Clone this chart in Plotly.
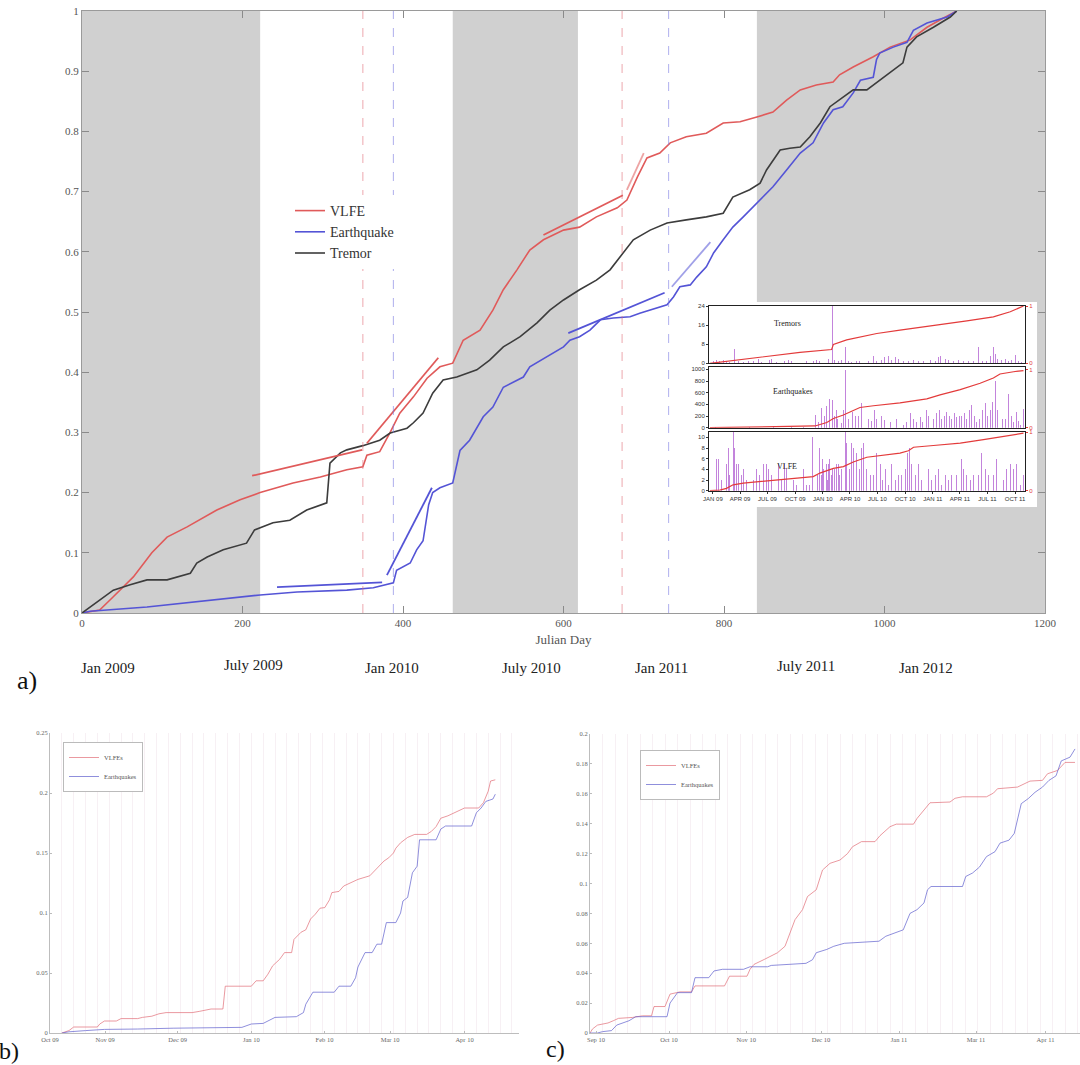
import plotly.graph_objects as go

W, H = 1080, 1065
SERIF = "Liberation Serif"

# ---------------- a) main panel: normalized cumulative counts vs Julian day
vlfe_day = [0, 22, 39, 64, 87, 106, 131, 168, 197, 222, 263, 297, 330, 350, 355, 371, 384, 396, 413, 430,
            446, 462, 475, 496, 512, 525, 542, 558, 575, 600, 620, 641, 667, 679, 692, 704, 720, 733, 753, 778,
            799, 820, 841, 861, 878, 895, 915, 936, 944, 961, 986, 1007, 1032, 1053, 1073, 1090]
vlfe_cum = [0, 0.005, 0.027, 0.06, 0.10, 0.126, 0.143, 0.171, 0.188, 0.20, 0.216, 0.226, 0.238, 0.243, 0.262, 0.268, 0.30, 0.332, 0.359, 0.39,
            0.409, 0.415, 0.453, 0.47, 0.503, 0.537, 0.57, 0.603, 0.62, 0.636, 0.641, 0.658, 0.673, 0.686, 0.724, 0.756, 0.764, 0.781, 0.791, 0.797,
            0.814, 0.816, 0.824, 0.832, 0.852, 0.869, 0.877, 0.882, 0.894, 0.907, 0.924, 0.94, 0.952, 0.973, 0.988, 1.0]

eq_day = [0, 10, 81, 163, 222, 268, 330, 363, 380, 388, 392, 409, 417, 425, 432, 437, 446, 462, 471, 483,
          500, 512, 525, 550, 558, 579, 600, 608, 620, 633, 646, 662, 683, 695, 716, 729, 737, 745, 758, 766,
          778, 787, 799, 811, 824, 836, 849, 861, 878, 895, 911, 924, 936, 948, 961, 970, 986, 990, 994, 1011,
          1028, 1036, 1053, 1078, 1090]
eq_cum = [0, 0.003, 0.01, 0.022, 0.03, 0.035, 0.038, 0.042, 0.047, 0.05, 0.071, 0.083, 0.105, 0.12, 0.18, 0.2, 0.208, 0.216, 0.27, 0.287,
          0.326, 0.342, 0.375, 0.392, 0.409, 0.425, 0.442, 0.453, 0.459, 0.47, 0.487, 0.49, 0.492, 0.498, 0.507, 0.512, 0.525, 0.542, 0.545, 0.558,
          0.575, 0.598, 0.62, 0.641, 0.658, 0.674, 0.691, 0.708, 0.736, 0.764, 0.781, 0.814, 0.836, 0.841, 0.864, 0.885, 0.89, 0.919, 0.93, 0.94,
          0.948, 0.968, 0.98, 0.99, 1.0]

tr_day = [0, 22, 39, 60, 81, 106, 135, 143, 156, 176, 205, 215, 238, 259, 280, 305, 309, 322, 330, 350,
          359, 371, 384, 405, 413, 425, 437, 450, 467, 492, 508, 525, 546, 567, 583, 600, 620, 641, 658, 670,
          687, 708, 729, 753, 778, 799, 811, 832, 845, 853, 870, 882, 895, 907, 920, 932, 944, 961, 978, 994,
          1011, 1023, 1028, 1040, 1061, 1082, 1090]
tr_cum = [0, 0.022, 0.038, 0.047, 0.055, 0.055, 0.066, 0.083, 0.093, 0.105, 0.116, 0.138, 0.15, 0.154, 0.171, 0.183, 0.249, 0.266, 0.271, 0.278,
          0.282, 0.287, 0.299, 0.307, 0.316, 0.332, 0.365, 0.387, 0.392, 0.404, 0.42, 0.442, 0.459, 0.482, 0.503, 0.52, 0.537, 0.553, 0.57, 0.591,
          0.62, 0.636, 0.648, 0.653, 0.658, 0.664, 0.691, 0.703, 0.714, 0.736, 0.769, 0.772, 0.774, 0.791, 0.814, 0.841, 0.852, 0.869, 0.869, 0.885,
          0.902, 0.914, 0.94, 0.957, 0.973, 0.99, 1.0]

# linear trend segments (start/end day, start/end value); last one of each drawn lighter
vlfe_fit_days = [[212, 349], [355, 444], [575, 674], [679, 700]]
vlfe_fit_vals = [[0.228, 0.271], [0.282, 0.424], [0.628, 0.694], [0.703, 0.764]]
eq_fit_days = [[243, 374], [380, 436], [606, 726], [735, 783]]
eq_fit_vals = [[0.043, 0.051], [0.063, 0.208], [0.465, 0.532], [0.542, 0.616]]

vlfe_event_days = [350, 673]
eq_event_days = [388, 731]

shade_start = [0, 462, 841]
shade_end = [222, 618, 1200]

main_xticks = [0, 200, 400, 600, 800, 1000, 1200]
date_labels = ["Jan 2009", "July 2009", "Jan 2010", "July 2010", "Jan 2011", "July 2011", "Jan 2012"]

# ---------------- inset: daily counts (days since 1 Jan 2009) + normalized cumulative
inset_tick_days = [0, 90, 181, 273, 365, 455, 546, 638, 730, 820, 911, 1003]
inset_tick_text = ["JAN 09", "APR 09", "JUL 09", "OCT 09", "JAN 10", "APR 10", "JUL 10", "OCT 10",
                   "JAN 11", "APR 11", "JUL 11", "OCT 11"]

tr_bar_day = [1, 12, 23, 34, 45, 56, 71, 84, 101, 117, 123, 134, 151, 162, 189, 195, 211, 239, 250, 261,
              289, 311, 333, 344, 355, 372, 383, 398, 405, 416, 427, 439, 450, 461, 477, 488, 505, 516, 533, 544,
              560, 571, 583, 594, 605, 616, 632, 649, 666, 682, 699, 721, 738, 749, 756, 771, 782, 798, 815, 832,
              848, 865, 882, 896, 909, 920, 931, 937, 945, 959, 970, 981, 992, 1003, 1014, 1025]
tr_bar_val = [1, 1.5, 1, 1.5, 1, 0.5, 6, 1, 0.5, 1, 1.5, 1, 2, 0.5, 1.5, 2, 0.5, 1, 1.5, 1,
              0.5, 1, 1, 1.5, 1, 1.5, 2, 24, 1.5, 1, 1.5, 7, 1, 0.5, 1, 1, 1.5, 1, 3, 1,
              1.5, 2.5, 3, 1.5, 2.5, 2, 1, 1, 1.5, 1, 1, 1.5, 1, 2.5, 3, 2, 1.5, 1, 1.5, 1,
              1, 1, 7, 1, 1, 3, 7, 4, 2, 1.5, 2, 1, 1.5, 3.5, 1, 0.5]
tr_cum_day = [-10, 23, 67, 123, 178, 289, 394, 400, 444, 544, 621, 754, 843, 931, 987, 1031]
tr_cum_val = [0, 0.02, 0.05, 0.09, 0.12, 0.19, 0.24, 0.33, 0.41, 0.52, 0.58, 0.67, 0.74, 0.81, 0.90, 1.0]

eq_bar_day = [10, 60, 120, 200, 260, 300, 342, 350, 361, 369, 378, 387, 392, 398, 403, 409, 414, 422, 427, 433,
              441, 450, 455, 464, 472, 483, 494, 505, 516, 527, 535, 544, 560, 571, 588, 601, 610, 621, 632, 643,
              657, 666, 677, 688, 697, 708, 715, 724, 732, 743, 752, 760, 769, 776, 785, 793, 801, 810, 818, 826,
              834, 843, 852, 859, 867, 876, 885, 894, 904, 912, 920, 929, 938, 946, 953, 962, 970, 981, 990, 998,
              1007, 1015, 1022, 1031]
eq_bar_val = [20, 30, 15, 20, 25, 20, 220, 100, 340, 200, 370, 500, 300, 480, 200, 300, 150, 120, 80, 310,
              1000, 150, 100, 280, 200, 200, 430, 250, 150, 120, 300, 150, 200, 130, 100, 300, 150, 200, 50, 100,
              250, 150, 100, 180, 100, 300, 200, 200, 150, 250, 300, 150, 200, 280, 200, 150, 250, 180, 200, 200,
              250, 150, 300, 400, 200, 100, 150, 300, 420, 200, 300, 450, 800, 300, 250, 150, 150, 580, 200, 100,
              280, 120, 50, 330]
eq_cum_day = [-10, 178, 339, 378, 400, 433, 466, 488, 533, 621, 710, 754, 821, 887, 931, 953, 998, 1031]
eq_cum_val = [0, 0.01, 0.03, 0.09, 0.16, 0.22, 0.29, 0.35, 0.38, 0.43, 0.50, 0.57, 0.66, 0.77, 0.86, 0.93, 0.97, 0.99]

vl_bar_day = [12, 20, 29, 40, 45, 51, 56, 67, 73, 79, 84, 95, 101, 112, 123, 134, 145, 156, 167, 178,
              184, 195, 206, 217, 228, 239, 245, 256, 267, 278, 289, 300, 311, 322, 330, 339, 347, 353, 360, 365,
              368, 372, 376, 380, 383, 388, 394, 398, 402, 405, 410, 416, 420, 427, 439, 444, 452, 461, 466, 477,
              486, 494, 500, 511, 522, 533, 544, 555, 564, 572, 583, 594, 605, 616, 627, 638, 646, 652, 660, 671,
              682, 693, 704, 716, 727, 738, 749, 760, 771, 782, 793, 810, 826, 832, 843, 854, 865, 882, 893, 904,
              915, 931, 942, 953, 964, 976, 987, 998, 1009, 1020, 1031]
vl_bar_val = [6, 6, 2, 5, 5, 8, 3, 11, 8, 5, 5, 3, 4, 2, 6, 2, 4, 3, 5, 5,
              4, 3, 2, 5, 2, 5, 4, 9, 2, 1, 1, 4, 1, 1, 10, 1, 3, 8, 3, 6,
              4, 4, 5, 2, 5, 6, 3, 4, 2, 4, 5, 5, 3, 4, 11, 9, 4, 9, 8, 7,
              4, 8, 9, 4, 3, 3, 7, 5, 2, 4, 1, 5, 2, 3, 3, 4, 7, 8, 5, 3,
              5, 2, 3, 4, 2, 3, 4, 1, 3, 2, 3, 3, 6, 4, 3, 2, 3, 3, 7, 4,
              3, 3, 6, 3, 2, 4, 5, 4, 5, 1, 3]
vl_cum_day = [-10, 23, 45, 67, 101, 178, 256, 333, 355, 400, 433, 466, 511, 555, 621, 649, 666, 732, 821, 898, 976, 1031]
vl_cum_val = [0, 0.01, 0.04, 0.10, 0.13, 0.17, 0.20, 0.24, 0.30, 0.38, 0.41, 0.49, 0.57, 0.60, 0.64, 0.68, 0.74, 0.77, 0.81, 0.87, 0.93, 0.98]

# ---------------- b) Oct 09 - Apr 10 (days from axis start)
b_tick_days = [0, 23.3, 53.9, 85, 115.9, 143.6, 175]
b_tick_text = ["Oct 09", "Nov 09", "Dec 09", "Jan 10", "Feb 10", "Mar 10", "Apr 10"]
b_vlfe_day = [5, 8, 10, 20, 21, 23, 28, 30, 37, 39, 43, 46, 49, 60, 63, 66, 68, 73, 74, 85,
              87, 90, 92, 94, 97, 99, 102, 103, 106, 108, 110, 112, 114, 116, 118, 119, 122, 124, 127, 130,
              135, 137, 139, 141, 143, 145, 146, 148, 151, 154, 159, 161, 163, 165, 168, 171, 175, 181, 183, 185,
              186, 188]
b_vlfe_val = [0, .002, .005, .005, .0075, .01, .01, .012, .012, .013, .014, .016, .017, .017, .018, .019, .02, .02, .039, .039,
              .0435, .0435, .049, .056, .0615, .067, .067, .078, .084, .086, .095, .099, .104, .1045, .111, .117, .118, .1225, .125, .128,
              .131, .135, .139, .1433, .146, .15, .154, .1585, .163, .1655, .1655, .168, .172, .179, .181, .1835, .1875, .1875, .192, .2015,
              .21, .211]
b_eq_day = [5, 8, 15, 23, 37, 52, 81, 85, 90, 92, 95, 104, 107, 108, 111, 120, 122, 127, 129, 130,
            133, 136, 138, 140, 142, 146, 148, 149, 151, 153, 155, 156, 163, 165, 167, 178, 180, 182, 184, 187, 188]
b_eq_val = [0, .001, .002, .003, .0033, .004, .0047, .0075, .008, .01, .013, .0136, .017, .024, .034, .034, .039, .039, .046, .055,
            .067, .067, .074, .074, .092, .092, .1, .11, .113, .1335, .139, .161, .161, .17, .1725, .1725, .1835, .1875, .193, .195, .199]

# ---------------- c) Sep 10 - Apr 11 (days from axis start)
c_tick_days = [2.4, 31.6, 62.5, 92.4, 123.6, 154.4, 182.2]
c_tick_text = ["Sep 10", "Oct 10", "Nov 10", "Dec 10", "Jan 11", "Mar 11", "Apr 11"]
c_vlfe_day = [0, 1, 3, 7.2, 9.3, 11.4, 17, 21, 24.6, 25.6, 30, 32, 36, 40.6, 42, 53.8, 55.8, 62.8, 64, 65.6,
              69.7, 72.5, 75, 78, 80, 82, 85, 87, 90.5, 93, 96, 100, 103, 105, 108.6, 114, 116, 120, 122.5, 129.4,
              130.8, 133, 136, 144, 146, 149, 158.6, 161.4, 163, 171, 174, 176, 181, 183, 187, 188.5, 190, 194]
c_vlfe_val = [0, .0027, .0053, .0067, .0082, .0098, .0104, .0115, .0115, .0177, .0177, .026, .0275, .0275, .0315, .0315, .038, .038, .0426, .0459,
              .0492, .0514, .0537, .058, .067, .0758, .0825, .0913, .0958, .109, .1135, .1157, .12, .1246, .128, .128, .132, .138, .1397, .1397,
              .1435, .148, .154, .1545, .157, .158, .158, .1605, .1634, .1645, .1667, .1685, .169, .1734, .1756, .178, .181, .181]
c_eq_day = [0, 3, 5, 8.6, 10.7, 15.6, 18.3, 30.8, 32, 35, 40.6, 42, 47.5, 49.6, 53, 61.4, 64, 71, 72.5, 78,
            86.4, 89, 90.5, 94.7, 97.5, 101.7, 115.6, 118.3, 122.5, 125.3, 128, 130.8, 133.6, 135, 136.4, 149, 150.3, 153, 155.8, 158.6,
            162, 164, 167.6, 169.7, 172.5, 175.3, 178, 181, 183.6, 186.4, 188.5, 192, 194]
c_eq_val = [0, 0, .0009, .0016, .0053, .0082, .0109, .0109, .02, .027, .027, .037, .037, .0415, .0426, .0426, .0443, .0443, .0452, .0459,
            .0466, .049, .0537, .0559, .058, .06, .0614, .0647, .067, .069, .08, .0825, .087, .0958, .098, .098, .1047, .107, .111, .118,
            .1213, .127, .129, .1335, .1534, .1568, .161, .1645, .169, .172, .182, .1845, .19]

# ---------------- styling
RED, BLUE, GREY = "#e05a5a", "#5454d6", "#3c3c3c"
RED_L, BLUE_L = "rgba(225,110,120,0.7)", "rgba(95,95,205,0.7)"
BAR = "rgba(170,80,205,0.7)"
CUMRED = "#e33b3b"

def px(p):
    return p / W

def py(p):
    return 1 - p / H

fig = go.Figure()

# main curves
for name, xs, ys, col in [("VLFE", vlfe_day, vlfe_cum, RED), ("Earthquake", eq_day, eq_cum, BLUE),
                          ("Tremor", tr_day, tr_cum, GREY)]:
    fig.add_trace(go.Scatter(x=xs, y=ys, name=name, mode="lines", line=dict(color=col, width=1.6),
                             xaxis="x", yaxis="y", legend="legend"))

# trend segments
for fd, fv, col in [(vlfe_fit_days, vlfe_fit_vals, RED), (eq_fit_days, eq_fit_vals, BLUE)]:
    for i, (d, v) in enumerate(zip(fd, fv)):
        fig.add_trace(go.Scatter(x=d, y=v, mode="lines", showlegend=False, opacity=0.55 if i == 3 else 1.0,
                                 line=dict(color=col, width=1.8), xaxis="x", yaxis="y"))

# event dashed lines
for days, col in [(vlfe_event_days, "rgba(225,110,120,0.6)"), (eq_event_days, "rgba(120,120,225,0.6)")]:
    for d in days:
        fig.add_trace(go.Scatter(x=[d, d], y=[0, 1], mode="lines", showlegend=False,
                                 line=dict(color=col, width=1, dash="dash"), xaxis="x", yaxis="y"))

shapes = []
for s, e in zip(shade_start, shade_end):
    shapes.append(dict(type="rect", xref="x", yref="y domain", x0=s, x1=e, y0=0, y1=1,
                       fillcolor="#d0d0d0", line=dict(width=0), layer="below"))

# inset white panel (placed in the inset subplot layer, above the main plot)
ix0, ix1 = 709, 1025
iy_top, iy_bot = 306, 363.3
shapes.append(dict(type="rect", xref="x2 domain", yref="y2 domain",
                   x0=(686 - ix0) / (ix1 - ix0), x1=(1037 - ix0) / (ix1 - ix0),
                   y0=(iy_bot - 507) / (iy_bot - iy_top), y1=(iy_bot - 302) / (iy_bot - iy_top),
                   fillcolor="white", line=dict(width=0), layer="below"))

# inset traces
for xa, ya, yr, bd, bv, cd, cv in [("x2", "y2", "y7", tr_bar_day, tr_bar_val, tr_cum_day, tr_cum_val),
                                   ("x3", "y3", "y8", eq_bar_day, eq_bar_val, eq_cum_day, eq_cum_val),
                                   ("x4", "y4", "y9", vl_bar_day, vl_bar_val, vl_cum_day, vl_cum_val)]:
    fig.add_trace(go.Bar(x=bd, y=bv, width=3, marker=dict(color=BAR, line=dict(width=0)),
                         showlegend=False, xaxis=xa, yaxis=ya))
    fig.add_trace(go.Scatter(x=cd, y=cv, mode="lines", line=dict(color=CUMRED, width=1.2),
                             showlegend=False, xaxis=xa, yaxis=yr))

# panels b and c
fig.add_trace(go.Scatter(x=b_vlfe_day, y=b_vlfe_val, name="VLFEs", mode="lines", line=dict(color=RED_L, width=1),
                         xaxis="x5", yaxis="y5", legend="legend2"))
fig.add_trace(go.Scatter(x=b_eq_day, y=b_eq_val, name="Earthquakes", mode="lines", line=dict(color=BLUE_L, width=1),
                         xaxis="x5", yaxis="y5", legend="legend2"))
fig.add_trace(go.Scatter(x=c_vlfe_day, y=c_vlfe_val, name="VLFEs", mode="lines", line=dict(color=RED_L, width=1),
                         xaxis="x6", yaxis="y6", legend="legend3"))
fig.add_trace(go.Scatter(x=c_eq_day, y=c_eq_val, name="Earthquakes", mode="lines", line=dict(color=BLUE_L, width=1),
                         xaxis="x6", yaxis="y6", legend="legend3"))

main_tickfont = dict(family=SERIF, size=11, color="#555")
small_font = dict(family=SERIF, size=6.5, color="#666")
inset_font = dict(family="Liberation Sans", size=6, color="#333")

common_main = dict(showline=True, linecolor="#9a9a9a", mirror="ticks", ticks="inside", ticklen=7,
                   tickcolor="#8a8a8a", showgrid=False, zeroline=False, tickfont=main_tickfont, automargin=False)

inset_x = dict(range=[-13, 1036], showline=True, linecolor="#222", mirror=True, showgrid=False, automargin=False,
               zeroline=False, tickvals=inset_tick_days, ticktext=inset_tick_text, tickfont=inset_font)

inset_y = dict(showline=True, linecolor="#222", showgrid=False, zeroline=False, ticks="outside", ticklen=2,
               tickcolor="#333", tickfont=inset_font, automargin=False)
inset_yr = dict(side="right", tickvals=[0, 1], showline=True, linecolor="#222", showgrid=False, zeroline=False,
                ticks="outside", ticklen=2, tickcolor=CUMRED, automargin=False,
                tickfont=dict(family="Liberation Sans", size=6, color=CUMRED))

GRID_MINOR = dict(tickmode="linear", tick0=0, dtick=5, showgrid=True,
                  gridcolor="rgba(225,200,215,0.28)", gridwidth=1, ticks="")
small_axis = dict(showline=True, linecolor="#bdbdbd", showgrid=False, zeroline=False, ticks="inside", ticklen=2,
                  tickcolor="#bbb", tickfont=small_font, automargin=False)

layout = dict(
    width=W, height=H, margin=dict(l=0, r=0, t=0, b=0, pad=0, autoexpand=False),
    paper_bgcolor="white", plot_bgcolor="white", showlegend=True, bargap=0,
    xaxis=dict(domain=[px(82), px(1045)], range=[0, 1200], anchor="y", tickvals=main_xticks,
               title=dict(text="Julian Day", font=dict(family=SERIF, size=13, color="#555"), standoff=6),
               **common_main),
    yaxis=dict(domain=[py(613), py(11)], range=[0, 1], anchor="x", dtick=0.1, **common_main),
    xaxis2=dict(domain=[px(ix0), px(ix1)], anchor="y2", showticklabels=False, ticks="", **inset_x),
    xaxis3=dict(domain=[px(ix0), px(ix1)], anchor="y3", showticklabels=False, ticks="", **inset_x),
    xaxis4=dict(domain=[px(ix0), px(ix1)], anchor="y4", ticks="outside", ticklen=2, tickcolor="#333", **inset_x),
    yaxis2=dict(domain=[py(iy_bot), py(iy_top)], anchor="x2", range=[0, 24], tickvals=[0, 8, 16, 24], **inset_y),
    yaxis3=dict(domain=[py(427.7), py(366.7)], anchor="x3", range=[0, 1045],
                tickvals=[0, 200, 400, 600, 800, 1000], **inset_y),
    yaxis4=dict(domain=[py(490.7), py(432)], anchor="x4", range=[0, 11], tickvals=[0, 2, 4, 6, 8, 10], **inset_y),
    yaxis7=dict(overlaying="y2", anchor="x2", range=[0, 1], **inset_yr),
    yaxis8=dict(overlaying="y3", anchor="x3", range=[0, 1.057], **inset_yr),
    yaxis9=dict(overlaying="y4", anchor="x4", range=[0, 1], **inset_yr),
    xaxis5=dict(domain=[px(50), px(519)], anchor="y5", range=[0, 198], tickvals=b_tick_days, ticktext=b_tick_text,
                minor=GRID_MINOR, **small_axis),
    yaxis5=dict(domain=[py(1033), py(733)], anchor="x5", range=[0, 0.25], dtick=0.05, **small_axis),
    xaxis6=dict(domain=[px(590), 1.0], anchor="y6", range=[0, 196], tickvals=c_tick_days, ticktext=c_tick_text,
                minor=GRID_MINOR, **small_axis),
    yaxis6=dict(domain=[py(1033), py(734)], anchor="x6", range=[0, 0.2], dtick=0.02, **small_axis),
    legend=dict(x=px(290), y=py(195), xanchor="left", yanchor="top", bgcolor="white", borderwidth=0,
                itemwidth=30, font=dict(family=SERIF, size=14, color="#333"), tracegroupgap=0),
    legend2=dict(x=px(63), y=py(742), xanchor="left", yanchor="top", bgcolor="white", bordercolor="#bbb",
                 borderwidth=1, itemwidth=30, font=dict(family=SERIF, size=6.5, color="#555")),
    legend3=dict(x=px(640), y=py(750), xanchor="left", yanchor="top", bgcolor="white", bordercolor="#bbb",
                 borderwidth=1, itemwidth=30, font=dict(family=SERIF, size=6.5, color="#555")),
    shapes=shapes,
)
fig.update_layout(**layout)

annotations = []


def label(text, x, y, size, color="#222"):
    annotations.append(dict(text=text, x=px(x), y=py(y), xref="paper", yref="paper", showarrow=False,
                            xanchor="center", yanchor="middle",
                            font=dict(family=SERIF, size=size, color=color)))


date_label_x = [108, 253, 392, 531, 661, 806, 926]
date_label_y = [668, 665, 668, 668, 668, 666, 668]
for t, x, y in zip(date_labels, date_label_x, date_label_y):
    label(t, x, y, 15)
label("a)", 27, 680, 26, "#111")
label("b)", 9, 1051, 24, "#111")
label("c)", 555, 1049, 24, "#111")
for t, x, y in [("Tremors", 787, 323), ("Earthquakes", 793, 391), ("VLFE", 787, 467)]:
    label(t, x, y, 8)
fig.update_layout(annotations=annotations)

fig.write_html("out.html")
